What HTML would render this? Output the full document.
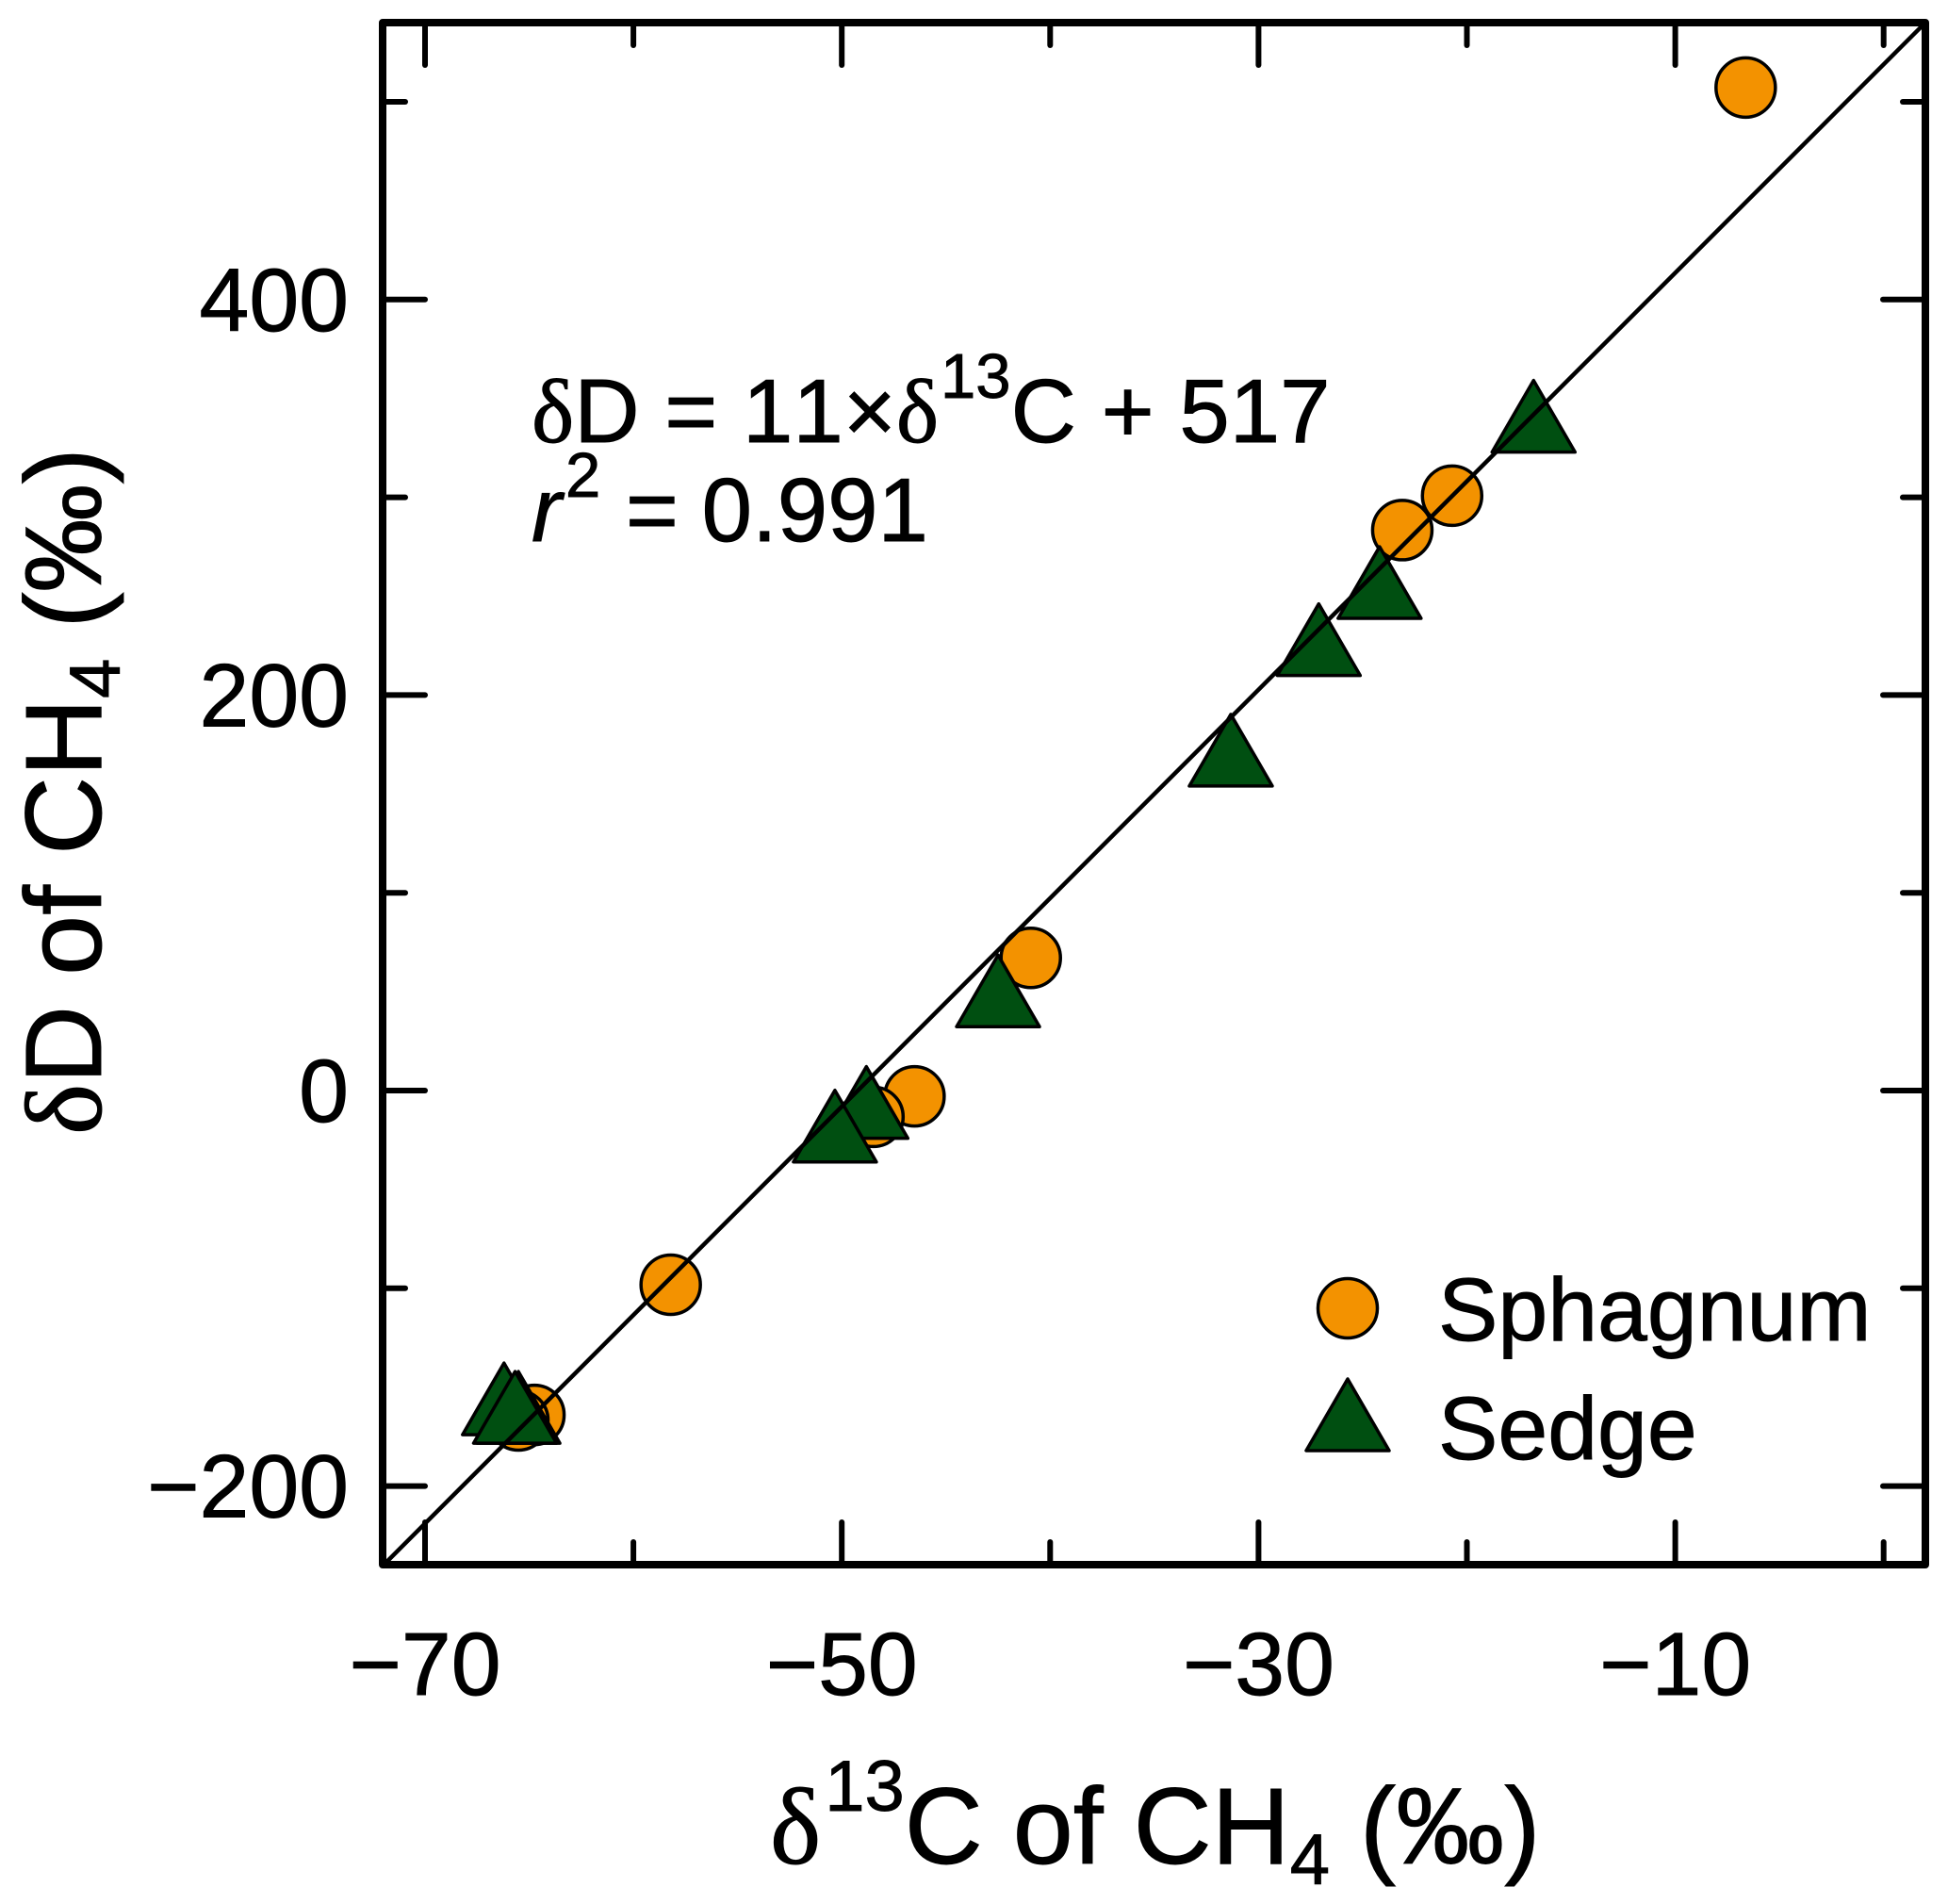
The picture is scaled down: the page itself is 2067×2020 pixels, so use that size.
<!DOCTYPE html>
<html lang="en">
<head>
<meta charset="utf-8">
<title>Methane isotope scatter plot</title>
<style>
html,body{margin:0;padding:0;background:#fff;}
svg{display:block;}
text{font-family:"Liberation Sans",sans-serif;fill:#000;stroke:#000;stroke-width:0.9;font-kerning:none;}
.serif{font-family:"Liberation Serif",serif;}
</style>
</head>
<body>
<svg id="chart" xmlns="http://www.w3.org/2000/svg" width="2067" height="2020" viewBox="0 0 2067 2020">
  <rect x="0" y="0" width="2067" height="2020" fill="#ffffff"/>
  <g id="ticks"></g>
  <g id="sphagnum"></g>
  <g id="sedge"></g>
  <g id="fit"></g>
  <rect x="406" y="24" width="1637" height="1636" fill="none" stroke="#000" stroke-width="8" stroke-linejoin="round"/>
  <g id="labels" font-size="95"></g>

  <text x="817" y="1977" font-size="115"><tspan class="serif">δ</tspan><tspan font-size="76" dx="4" dy="-56">13</tspan><tspan dy="56">C of CH</tspan><tspan font-size="76" dy="22">4</tspan><tspan dy="-22"> (‰)</tspan></text>

  <text transform="translate(107 1204) rotate(-90)" font-size="115"><tspan class="serif">δ</tspan><tspan>D of CH</tspan><tspan font-size="76" dy="20">4</tspan><tspan dy="-20"> (‰)</tspan></text>

  <text x="564" y="469" font-size="96"><tspan class="serif">δ</tspan><tspan>D = 11×</tspan><tspan class="serif">δ</tspan><tspan font-size="67" dx="2" dy="-47">13</tspan><tspan dy="47">C + 517</tspan></text>
  <text x="564" y="574" font-size="96"><tspan font-style="italic">r</tspan><tspan font-size="67" dx="4" dy="-47">2</tspan><tspan dy="47"> = </tspan><tspan dx="-2">0.991</tspan></text>

  <g>
    <circle cx="1430" cy="1388" r="31.5" fill="#f39200" stroke="#000" stroke-width="3.5"/>
    <text x="1526" y="1422" font-size="95">Sphagnum</text>
    <polygon points="1430,1463 1386,1539 1474,1539" fill="#004f11" stroke="#000" stroke-width="3.5" stroke-linejoin="round"/>
    <text x="1526" y="1548" font-size="95">Sedge</text>
  </g>
</svg>
<script>
// Chart data
const xMajorTicks = [-70, -50, -30, -10];
const xMinorTicks = [-60, -40, -20, 0];
const yMajorTicks = [-200, 0, 200, 400];
const yMinorTicks = [-100, 100, 300, 500];
const xTickLabels = ['\u221270', '\u221250', '\u221230', '\u221210'];
const yTickLabels = ['\u2212200', '0', '200', '400'];
const sphagnumX = [-6.62, -20.71, -23.1, -40.93, -46.51, -48.48, -58.21, -64.75, -65.52];
const sphagnumY = [507.2, 300.8, 283.4, 67.1, -2.9, -13.3, -98.2, -164, -166.8];
const sedgeX = [-16.8, -24.19, -27.11, -31.33, -42.5, -48.82, -50.33, -66.21, -65.52, -65.68];
const sedgeY = [341, 256.9, 228, 172.1, 50.4, -6, -18, -155.9, -160.2, -160.2];
const fitLineX = [-72, 2];
const fitLineY = [-240, 540];

// Axis functions
const SVG_NS = 'http://www.w3.org/2000/svg';
const xScale = v => 451 + (v + 70) * 22.11;
const yScale = v => 1157 - v * 2.098;
const PLOT = { left: 406, right: 2043, top: 24, bottom: 1660 };
const MAJOR = 45, MINOR = 24;
const TICK_W = 6;

function make(tag, parentId, attrs) {
  const el = document.createElementNS(SVG_NS, tag);
  Object.keys(attrs).forEach(k => el.setAttribute(k, attrs[k]));
  document.getElementById(parentId).appendChild(el);
  return el;
}
function tickLine(x1, y1, x2, y2) {
  const el = make('line', 'ticks', { x1, y1, x2, y2, stroke: '#000', 'stroke-width': TICK_W, 'stroke-linecap': 'round' });
  return el;
}

[[xMajorTicks, MAJOR], [xMinorTicks, MINOR]].forEach(([vals, len]) => {
  vals.forEach(v => {
    const x = xScale(v);
    const bottomTick = tickLine(x, PLOT.bottom, x, PLOT.bottom - len);
    
    
    const topTick = tickLine(x, PLOT.top, x, PLOT.top + len);
    
    
  });
});
[[yMajorTicks, MAJOR], [yMinorTicks, MINOR]].forEach(([vals, len]) => {
  vals.forEach(v => {
    const y = yScale(v);
    const leftTick = tickLine(PLOT.left, y, PLOT.left + len, y);
    
    
    const rightTick = tickLine(PLOT.right, y, PLOT.right - len, y);
    
    
  });
});

xMajorTicks.forEach((v, i) => {
  const t = make('text', 'labels', { x: xScale(v), y: 1798, 'text-anchor': 'middle' });
  t.textContent = xTickLabels[i];
  
  
});
yMajorTicks.forEach((v, i) => {
  const t = make('text', 'labels', { x: 370, y: yScale(v) + 33, 'text-anchor': 'end' });
  t.textContent = yTickLabels[i];
  
  
});

sphagnumX.forEach((v, i) => {
  const c = make('circle', 'sphagnum', { cx: xScale(v), cy: yScale(sphagnumY[i]), r: 31.5, fill: '#f39200', stroke: '#000', 'stroke-width': 3.5 });
  
  
});
sedgeX.forEach((v, i) => {
  const x = xScale(v), y = yScale(sedgeY[i]);
  const points = [[x, y - 38], [x - 44, y + 38], [x + 44, y + 38]].map(p => p.join(',')).join(' ');
  const p = make('polygon', 'sedge', { points, fill: '#004f11', stroke: '#000', 'stroke-width': 3.5, 'stroke-linejoin': 'round' });
  
  
});
const fit = make('line', 'fit', {
  x1: xScale(fitLineX[0]), y1: yScale(fitLineY[0]),
  x2: xScale(fitLineX[1]), y2: yScale(fitLineY[1]),
  stroke: '#000', 'stroke-width': 4.5
});


</script>
</body>
</html>
